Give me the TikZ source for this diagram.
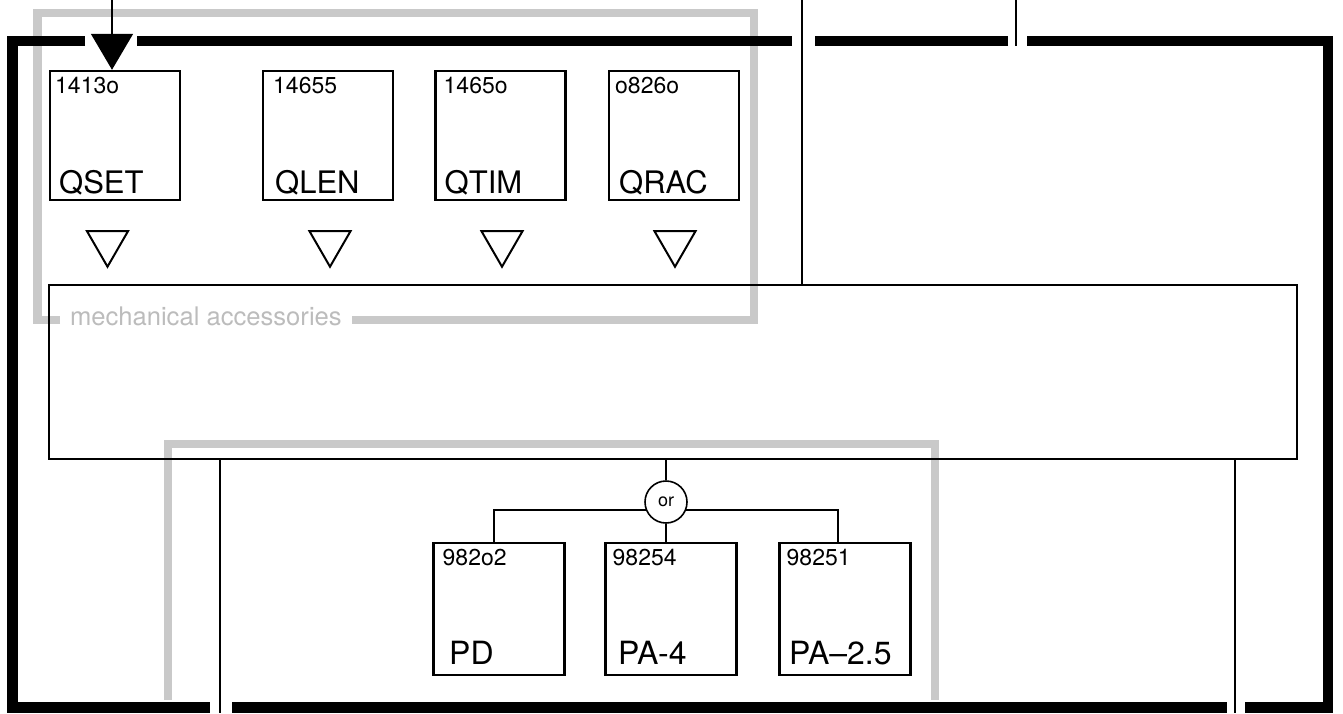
\documentclass[tikz,border=0pt]{standalone}
\usepackage{fontspec}
\setsansfont{TeX Gyre Heros}
\usetikzlibrary{arrows.meta, positioning, calc, shapes.geometric}
\definecolor{trayline}{RGB}{201,201,201}
\definecolor{traytext}{RGB}{188,188,188}
\tikzset{
  hull/.style={draw=black, line width=5.25pt},
  tray/.style={draw=trayline, line width=4.25pt},
  traylabel/.style={
    anchor=base west,
    inner xsep=5pt,
    inner ysep=0pt,
    outer sep=0pt,
    text=traytext,
    font=\fontsize{12.8}{15}\selectfont\sffamily
  },
  unit/.style={
    draw=black,
    line width=1.2pt,
    minimum width=65pt,
    minimum height=64.5pt,
    inner sep=0pt
  },
  part/.style={unit, minimum width=65.5pt, minimum height=66pt},
  carrier/.style={
    draw=black,
    line width=1pt,
    minimum width=624pt,
    minimum height=87pt,
    inner sep=0pt
  },
  code/.style={anchor=base west, inner sep=0pt, font=\fontsize{11.5}{13}\selectfont\sffamily},
  tag/.style={anchor=base west, inner sep=0pt, font=\fontsize{15.5}{18}\selectfont\sffamily},
  bigtag/.style={tag, font=\fontsize{16}{19}\selectfont\sffamily},
  valve/.style={
    regular polygon,
    regular polygon sides=3,
    shape border rotate=180,
    draw=black,
    line width=1pt,
    minimum size=23.7pt,
    inner sep=0pt
  },
  choice/.style={
    circle,
    draw=black,
    line width=0.8pt,
    minimum size=21pt,
    inner sep=0pt,
    font=\fontsize{9}{10}\selectfont\sffamily
  },
  wire/.style={draw=black, line width=0.8pt},
  feed/.style={wire, -{Triangle[length=18pt, width=21pt]}}
}

\begin{document}
\begin{tikzpicture}[x=0.5pt,y=-0.5pt]
    \useasboundingbox (0,0) rectangle (1343,713);

    % grey trays
    \node[traylabel] (mechlbl) at (60,325) {mechanical accessories};
    \draw[tray] (mechlbl.west |- 0,320) -| (37.5,13) -| (754,320) -- (mechlbl.east |- 0,320);
    \draw[tray] (168,700) |- (935,444) -- (935,700);

    % outer frame
    \draw[hull] (85,41) -| (12.5,707.5) -- (210,707.5);
    \draw[hull] (232,707.5) -- (1227,707.5);
    \draw[hull] (1245,707.5) -| (1328,41) -- (1027,41);
    \draw[hull] (1008,41) -- (815,41);
    \draw[hull] (792,41) -- (137,41);

    \coordinate (feedtop) at (112,0);
    \coordinate (intop) at (802,0);
    \coordinate (auxtop) at (1016,0);
    \coordinate (auxend) at (1016,46);
    \coordinate (outl) at (220,713);
    \coordinate (outr) at (1235,713);

    \node[carrier] (base) at (673,372) {};

    \node[unit] (qset) at (115,135.5) {};
    \node[unit] (qlen) at (328,135.5) {};
    \node[unit] (qtim) at (500.5,135.5) {};
    \node[unit] (qrac) at (674,135.5) {};
    \node[code] at ($(qset.north west)+(6,24)$) {1413o};
    \node[code] at ($(qlen.north west)+(11,24)$) {14655};
    \node[code] at ($(qtim.north west)+(9,24)$) {1465o};
    \node[code] at ($(qrac.north west)+(7,24)$) {o826o};
    \node[tag] at ($(qset.south west)+(10,-8)$) {QSET};
    \node[tag] at ($(qlen.south west)+(13,-8)$) {QLEN};
    \node[tag] at ($(qtim.south west)+(10,-8)$) {QTIM};
    \node[tag] at ($(qrac.south west)+(11,-8)$) {QRAC};

    \node[valve] (vqset) at (107.5,243) {};
    \node[valve] (vqlen) at (330,243) {};
    \node[valve] (vqtim) at (502,243) {};
    \node[valve] (vqrac) at (675,243) {};

    \node[choice] (sel) at (666,502) {or};
    \node[part] (pd) at (499,609) {};
    \node[part] (pa4) at (671,609) {};
    \node[part] (pa25) at (845,609) {};
    \node[code] at ($(pd.north west)+(10,24)$) {982o2};
    \node[code] at ($(pa4.north west)+(8,24)$) {98254};
    \node[code] at ($(pa25.north west)+(8,24)$) {98251};
    \node[bigtag] at ($(pd.south west)+(16.5,-12)$) {PD};
    \node[bigtag] at ($(pa4.south west)+(13.5,-12)$) {PA-4};
    \node[bigtag] at ($(pa25.south west)+(10.5,-12)$) {PA--2.5};

    \draw[feed] (feedtop) -- (feedtop |- qset.north);
    \draw[wire] (intop) -- (intop |- base.north);
    \draw[wire] (auxtop) -- (auxend);
    \draw[wire] (base.south -| outl) -- (outl);
    \draw[wire] (base.south -| outr) -- (outr);
    \draw[wire] (base.south -| sel) -- (sel.north);
    \draw[wire] (sel.south) -- (sel.south |- pa4.north);
    \draw[wire] (sel.202) -| ([xshift=-2.5pt]pd.north);
    \draw[wire] (sel.338) -| ([xshift=-3.5pt]pa25.north);
  \end{tikzpicture}
\end{document}
